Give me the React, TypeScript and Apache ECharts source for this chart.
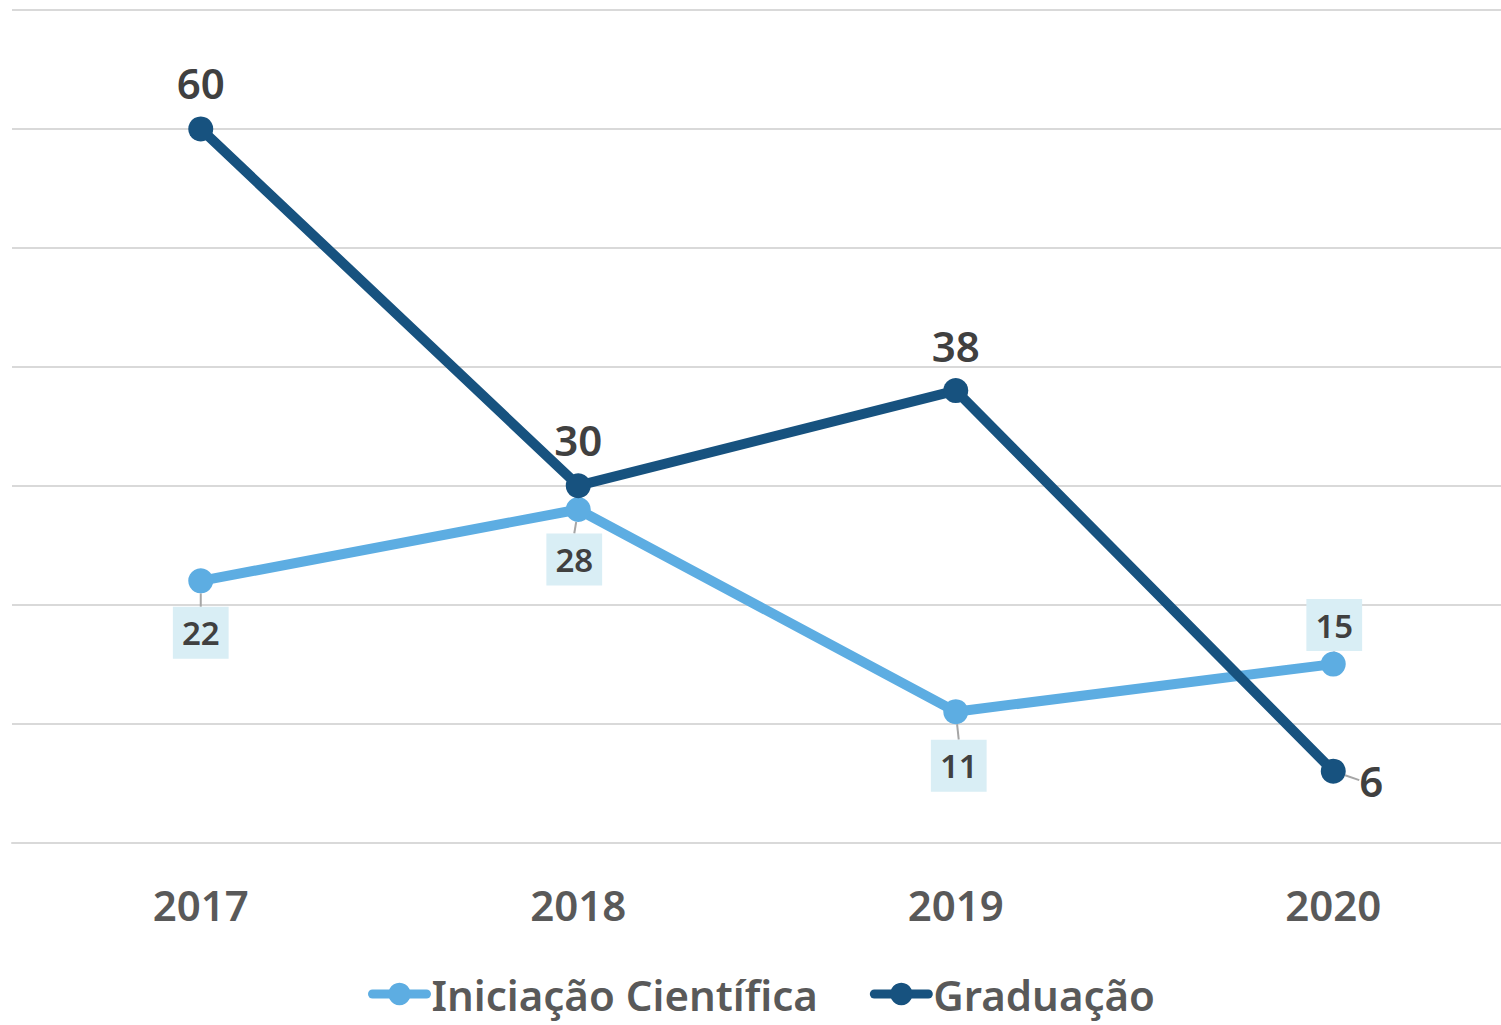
import React, { useEffect, useRef } from 'react';
import * as echarts from 'echarts';

const years = ['2017', '2018', '2019', '2020'];
const iniciacaoValues = [22, 28, 11, 15];
const graduacaoValues = [60, 30, 38, 6];
const seriesNames = ['Iniciação Científica', 'Graduação'];

const FONT = '"Noto Sans", sans-serif';

export default function App() {
  const ref = useRef<HTMLDivElement>(null);
  useEffect(() => {
    document.body.style.margin = '0';
    const chart = echarts.init(ref.current!, null, { renderer: 'svg' });
    const iniOffsets = [[0, 52], [-4, 50], [3, 54], [1, -39]];
    const gradOffsets = [[0, -46], [0, -46], [0, -45], [38, 9]];
    const option = {
      animation: false,
      backgroundColor: '#ffffff',
      grid: { left: 12, right: 1, top: 10, height: 832.5 },
      legend: {
        bottom: 5,
        left: 'center',
        itemWidth: 54,
        itemHeight: 28,
        itemGap: 52,
        lineStyle: { width: 9, cap: 'round' },
        textStyle: { fontFamily: FONT, fontSize: 42, fontWeight: 600, color: '#595959' },
        data: seriesNames,
      },
      xAxis: {
        type: 'category',
        data: years,
        boundaryGap: true,
        axisLine: { lineStyle: { color: '#d9d9d9', width: 2 } },
        axisTick: { show: false },
        axisLabel: { fontFamily: FONT, fontSize: 42, fontWeight: 600, color: '#595959', margin: 41 },
      },
      yAxis: {
        type: 'value',
        min: 0,
        max: 70,
        interval: 10,
        axisLabel: { show: false },
        axisLine: { show: false },
        axisTick: { show: false },
        splitLine: { lineStyle: { color: '#d9d9d9', width: 2 } },
      },
      series: [
        {
          name: seriesNames[0],
          type: 'line',
          data: iniciacaoValues,
          symbol: 'circle',
          symbolSize: 25,
          lineStyle: { color: '#5dade2', width: 10, cap: 'round' },
          itemStyle: { color: '#5dade2' },
          label: {
            show: true,
            position: 'inside',
            fontFamily: FONT,
            fontSize: 33,
            fontWeight: 600,
            color: '#404040',
            backgroundColor: '#d9eef5',
            padding: [10, 9, 9, 9],
          },
          labelLine: { show: true, lineStyle: { color: '#a6a6a6', width: 2 } },
          labelLayout: (p: any) => ({ dx: iniOffsets[p.dataIndex][0], dy: iniOffsets[p.dataIndex][1] }),
          z: 2,
        },
        {
          name: seriesNames[1],
          type: 'line',
          data: graduacaoValues.map((v, i) => (i === 3 ? { value: v, labelLine: { show: true } } : v)),
          symbol: 'circle',
          symbolSize: 25,
          lineStyle: { color: '#17527f', width: 10, cap: 'round' },
          itemStyle: { color: '#17527f' },
          label: {
            show: true,
            position: 'inside',
            fontFamily: FONT,
            fontSize: 42,
            fontWeight: 600,
            color: '#404040',
          },
          labelLine: { show: false, lineStyle: { color: '#a6a6a6', width: 2 } },
          labelLayout: (p: any) => ({ dx: gradOffsets[p.dataIndex][0], dy: gradOffsets[p.dataIndex][1] }),
          z: 3,
        },
      ],
    };
    chart.setOption(option as any);
    return () => chart.dispose();
  }, []);
  return (
    <div style={{ position: 'absolute', left: 0, top: 0, width: 1501, height: 1025, overflow: 'hidden' }}>
      <div ref={ref} style={{ width: 1523, height: 1025 }} />
    </div>
  );
}
